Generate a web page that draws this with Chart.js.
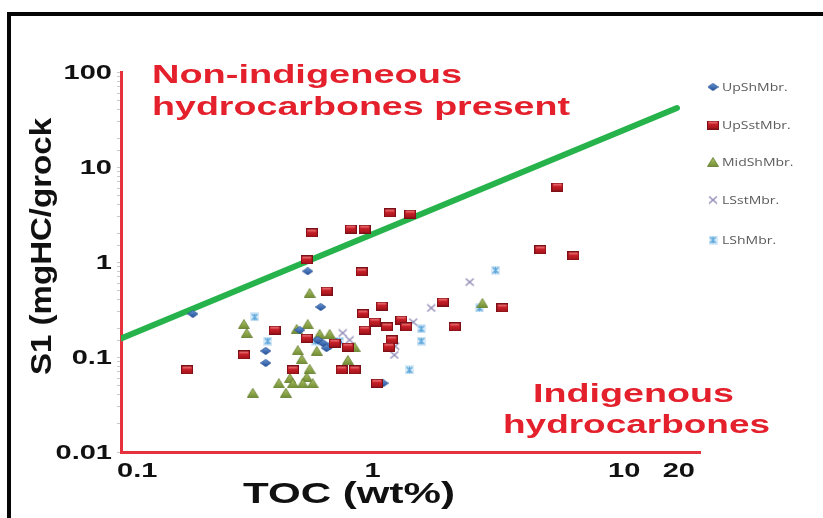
<!DOCTYPE html>
<html>
<head>
<meta charset="utf-8">
<script src="https://cdn.jsdelivr.net/npm/chart.js@4/dist/chart.umd.min.js"></script>
<style>
html,body{margin:0;padding:0;background:#fff;}
canvas{display:block;}
</style>
</head>
<body>
<canvas id="c" width="823" height="518"></canvas>
<script>
// ---------- data ----------
const upShTOC = [0.193,0.376,0.376,0.552,0.622,0.634,0.675,0.719,0.605,1.10,0.513,0.656];
const upShS1  = [0.284,0.116,0.0865,0.80,0.336,0.140,0.131,0.144,0.151,0.053,0.192,0.124];

const upSstTOC = [0.183,0.308,0.408,0.482,0.547,0.573,0.547,0.656,0.706,0.797,0.753,0.849,0.818,0.929,0.904,0.915,1.02,0.929,1.087,1.04,1.17,1.41,1.14,1.30,1.36,1.19,1.16,1.90,2.12,3.28,4.64,6.28,5.42];
const upSstS1  = [0.073,0.105,0.192,0.073,0.158,2.02,1.05,0.495,0.140,0.127,0.073,0.073,2.22,2.22,0.785,0.284,0.233,0.192,0.344,0.053,3.28,3.20,0.207,0.245,0.207,0.151,0.127,0.379,0.207,0.328,1.34,1.16,6.15];

const midShTOC = [0.562,0.308,0.316,0.552,0.499,0.616,0.675,0.504,0.523,0.600,0.562,0.547,0.469,0.424,0.482,0.527,0.578,0.334,0.452,0.797,0.849,2.73];
const midShS1  = [0.472,0.222,0.179,0.222,0.197,0.175,0.175,0.118,0.095,0.116,0.075,0.0616,0.060,0.053,0.053,0.053,0.053,0.042,0.042,0.093,0.127,0.370];

const lSstTOC = [2.43,1.71,1.45,1.22,1.23,0.81,0.76];
const lSstS1  = [0.615,0.328,0.233,0.105,0.13,0.151,0.179];

const lShTOC = [0.340,0.383,1.56,1.56,1.40,3.08,2.66,0.594,0.74];
const lShS1  = [0.264,0.147,0.198,0.147,0.073,0.82,0.328,0.147,0.147];

const boundaryTOC = [0.1, 16.2];
const boundaryS1  = [0.157, 41.8];

const seriesNames = ['UpShMbr.','UpSstMbr.','MidShMbr.','LSstMbr.','LShMbr.'];
const xTicks = [0.1, 1, 10, 20];
const xTickLabels = ['0.1','1','10','20'];
const yTicks = [100, 10, 1, 0.1, 0.01];
const yTickLabels = ['100','10','1','0.1','0.01'];
const xTitle = 'TOC (wt%)';
const yTitle = 'S1 (mgHC/grock';
const upperNote = ['Non-indigeneous','hydrocarbones present'];
const lowerNote = ['Indigenous','hydrocarbones'];

// ---------- marker images ----------
function mk(w,h,draw){const c=document.createElement('canvas');c.width=w;c.height=h;draw(c.getContext('2d'),w,h);return c;}
const mSquare = mk(12,9,(g,w,h)=>{const gr=g.createLinearGradient(0,0,0,h);gr.addColorStop(0,'#e0464c');gr.addColorStop(0.5,'#c21d26');gr.addColorStop(1,'#9a121a');g.fillStyle=gr;g.fillRect(0.5,0.5,w-1,h-1);g.strokeStyle='#7d1016';g.lineWidth=1;g.strokeRect(0.5,0.5,w-1,h-1);g.fillStyle='rgba(255,170,170,0.7)';g.fillRect(2,1.5,w-4,1);});
const mDiamond = mk(11,8,(g,w,h)=>{const gr=g.createLinearGradient(0,0,0,h);gr.addColorStop(0,'#6d9ad8');gr.addColorStop(1,'#1e4b94');g.fillStyle=gr;g.beginPath();g.moveTo(w/2,0.3);g.lineTo(w-0.3,h/2);g.lineTo(w/2,h-0.3);g.lineTo(0.3,h/2);g.closePath();g.fill();g.strokeStyle='#234e90';g.lineWidth=0.7;g.stroke();});
const mTriangle = mk(12,10,(g,w,h)=>{const gr=g.createLinearGradient(0,0,0,h);gr.addColorStop(0,'#b2c46c');gr.addColorStop(1,'#6f8c30');g.fillStyle=gr;g.beginPath();g.moveTo(w/2,0.5);g.lineTo(w-0.5,h-0.5);g.lineTo(0.5,h-0.5);g.closePath();g.fill();g.strokeStyle='#5f7a2a';g.lineWidth=0.8;g.stroke();});
const mCross = mk(10,9,(g,w,h)=>{g.strokeStyle='#8c87b4';g.lineWidth=1.3;g.beginPath();g.moveTo(1,1);g.lineTo(w-1,h-1);g.moveTo(w-1,1);g.lineTo(1,h-1);g.stroke();});
const mStar = mk(9,9,(g,w,h)=>{g.fillStyle='rgba(170,210,240,0.45)';g.fillRect(0,0,w,h);g.strokeStyle='#5ea8dc';g.lineWidth=1.4;g.beginPath();g.moveTo(1.5,1.5);g.lineTo(w-1.5,h-1.5);g.moveTo(w-1.5,1.5);g.lineTo(1.5,h-1.5);g.moveTo(w/2,1);g.lineTo(w/2,h-1);g.stroke();});
const markers = [mDiamond,mSquare,mTriangle,mCross,mStar];

function pts(xs,ys){return xs.map((x,i)=>({x:x,y:ys[i]}));}

// ---------- overlay text helpers ----------
function stretched(ctx,text,x,y,font,color,sx,align,baseline){
  ctx.save();ctx.font=font;ctx.fillStyle=color;ctx.textAlign=align||'left';ctx.textBaseline=baseline||'alphabetic';
  ctx.translate(x,y);ctx.scale(sx,1);ctx.fillText(text,0,0);ctx.restore();
}
function fitWidth(ctx,text,font,target){ctx.save();ctx.font=font;const w=ctx.measureText(text).width;ctx.restore();return target/w;}

const RED='#e3202b';
const overlay = {
  id:'overlay',
  beforeDraw(chart){
    const ctx=chart.ctx;
    ctx.save();ctx.fillStyle='#fff';ctx.fillRect(0,0,chart.width,chart.height);
    ctx.fillStyle='#050505';ctx.fillRect(7,12,chart.width-7,4);ctx.fillRect(7,12,4,chart.height-12);
    ctx.restore();
  },
  afterDraw(chart){
    const ctx=chart.ctx, xs=chart.scales.x, ys=chart.scales.y;
    const tickFont='bold 20px "Liberation Sans", Arial, sans-serif';
    // y tick labels
    yTicks.forEach((v,i)=>stretched(ctx,yTickLabels[i],112,ys.getPixelForValue(v)+1,tickFont,'#111',1.45,'right','middle'));
    // x tick labels
    xTicks.forEach((v,i)=>{
      const px=xs.getPixelForValue(v);
      let align='center', x=px;
      if(i===0){align='left';x=px-4;}
      if(i===xTicks.length-1){align='right';x=px-5;}
      stretched(ctx,xTickLabels[i],x,477,tickFont,'#111',1.45,align,'alphabetic');
    });
    // axis titles
    const tf='bold 30px "Liberation Sans", Arial, sans-serif';
    stretched(ctx,xTitle,243,503,tf,'#111',fitWidth(ctx,xTitle,tf,212),'left','alphabetic');
    ctx.save();ctx.translate(51,375);ctx.rotate(-Math.PI/2);
    const s=fitWidth(ctx,yTitle,tf,257);
    ctx.font=tf;ctx.fillStyle='#111';ctx.textAlign='left';ctx.textBaseline='alphabetic';ctx.scale(s,1);ctx.fillText(yTitle,0,0);ctx.restore();
    // annotations
    const af='bold 25px "Liberation Sans", Arial, sans-serif';
    stretched(ctx,upperNote[0],152,83,af,RED,fitWidth(ctx,upperNote[0],af,310),'left','alphabetic');
    stretched(ctx,upperNote[1],152,115,af,RED,fitWidth(ctx,upperNote[1],af,418),'left','alphabetic');
    stretched(ctx,lowerNote[0],533,402,af,RED,fitWidth(ctx,lowerNote[0],af,201),'left','alphabetic');
    stretched(ctx,lowerNote[1],503,433,af,RED,fitWidth(ctx,lowerNote[1],af,267),'left','alphabetic');
    // legend
    const lf='10px "Open Sans", "DejaVu Sans", sans-serif';
    const ly=[87,125,162,200,240];
    seriesNames.forEach((n,i)=>{
      const m=markers[i];
      ctx.drawImage(m,713-m.width/2,ly[i]-m.height/2);
      stretched(ctx,n,722,ly[i]+1,lf,'#5a5a5a',1.4,'left','middle');
    });
  }
};

const axisRed='#e5323c';
new Chart(document.getElementById('c'),{
  type:'scatter',
  data:{datasets:[
    {type:'line',label:'boundary',data:pts(boundaryTOC,boundaryS1),borderColor:'#27b34b',borderWidth:6,pointRadius:0,borderCapStyle:'round',fill:false,order:10},
    {label:seriesNames[0],data:pts(upShTOC,upShS1),pointStyle:mDiamond,order:2},
    {label:seriesNames[1],data:pts(upSstTOC,upSstS1),pointStyle:mSquare,order:1},
    {label:seriesNames[2],data:pts(midShTOC,midShS1),pointStyle:mTriangle,order:3},
    {label:seriesNames[3],data:pts(lSstTOC,lSstS1),pointStyle:mCross,order:4},
    {label:seriesNames[4],data:pts(lShTOC,lShS1),pointStyle:mStar,order:5}
  ]},
  options:{
    responsive:false,animation:false,devicePixelRatio:1,
    layout:{padding:{left:117,top:72,right:123,bottom:66}},
    plugins:{legend:{display:false},tooltip:{enabled:false}},
    scales:{
      x:{type:'logarithmic',min:0.1,max:20,
         ticks:{display:false},grid:{display:false,drawTicks:false},
         border:{display:true,color:axisRed,width:3}},
      y:{type:'logarithmic',min:0.01,max:100,
         ticks:{display:false},
         grid:{display:true,drawOnChartArea:false,drawTicks:true,tickLength:4,color:'#c9c9c9',lineWidth:1},
         border:{display:true,color:axisRed,width:3}}
    }
  },
  plugins:[overlay]
});
</script>
</body>
</html>
